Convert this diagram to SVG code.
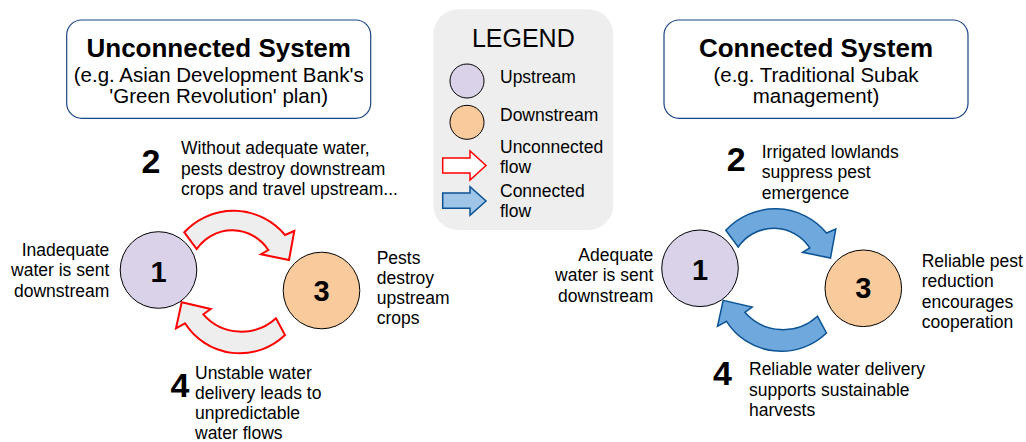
<svg xmlns="http://www.w3.org/2000/svg" width="1026" height="442" viewBox="0 0 1026 442">
<style>
text{font-family:"Liberation Sans",Arial,sans-serif;fill:#000}
.title{font-size:26px;font-weight:bold;text-anchor:middle}
.sub{font-size:20.5px;text-anchor:middle}
.lbl{font-size:17.5px}
.r{text-anchor:end}
.num{font-size:34px;font-weight:bold;text-anchor:middle}
.cnum{font-size:29px;font-weight:bold;text-anchor:middle}
.box{fill:#fff;stroke:#1c4587;stroke-width:1.2}
.up{fill:#d9d2e9;stroke:#000;stroke-width:1}
.down{fill:#f9cb9c;stroke:#000;stroke-width:1}
.red{fill:#eeeeee;stroke:#ff0000;stroke-width:2;stroke-linejoin:miter}
.blue{fill:#6fa8dc;stroke:#0b5394;stroke-width:1.5;stroke-linejoin:miter}
</style>
<defs>
<path id="arrTop" d="M184.3,232.3 A67,67 0 0 1 285,235 L294.3,231 L289,260 L261,254.3 L268.3,250 A43,43 0 0 0 196.7,249 Z"/>
<path id="arrBot" d="M285,335 A65,65 0 0 1 185,323.3 L176,328.3 L181.7,302.3 L210.7,309 L203.3,314.3 A51,51 0 0 0 276,318.3 Z"/>
</defs>

<g id="title-unconnected">
<rect class="box" x="66.7" y="20" width="304" height="98.3" rx="15"/>
<text class="title" x="218.7" y="57.3">Unconnected System</text>
<text class="sub" x="218.7" y="81.7">(e.g. Asian Development Bank's</text>
<text class="sub" x="218.7" y="102.7">'Green Revolution' plan)</text>
</g>

<g id="title-connected">
<rect class="box" x="664" y="20" width="304" height="98.3" rx="15"/>
<text class="title" x="816" y="57.3">Connected System</text>
<text class="sub" x="816" y="81.7">(e.g. Traditional Subak</text>
<text class="sub" x="816" y="102.7">management)</text>
</g>

<g id="legend">
<rect x="433.3" y="9.3" width="180" height="220.7" rx="25" fill="#eeeeee"/>
<text x="523.3" y="46.7" font-size="25" text-anchor="middle">LEGEND</text>
<circle class="up" cx="467" cy="81" r="17"/>
<text class="lbl" x="500" y="83.3">Upstream</text>
<circle class="down" cx="467" cy="122.3" r="17"/>
<text class="lbl" x="500" y="120.7">Downstream</text>
<path d="M442.7,158 L470,158 L470,151 L486,165.5 L470,180 L470,173 L442.7,173 Z" fill="#fff" stroke="#ff0000" stroke-width="1.5"/>
<text class="lbl" x="500" y="152.7">Unconnected</text>
<text class="lbl" x="500" y="173.3">flow</text>
<path d="M442.7,193 L470,193 L470,186.7 L486,201 L470,215.3 L470,208.3 L442.7,208.3 Z" fill="#9fc5e8" stroke="#0b5394" stroke-width="1.5"/>
<text class="lbl" x="500" y="196.7">Connected</text>
<text class="lbl" x="500" y="216.7">flow</text>
</g>

<g id="connectors">
<use href="#arrTop" class="red"/>
<use href="#arrBot" class="red"/>
<use href="#arrTop" class="blue" transform="translate(541.5,-2)"/>
<use href="#arrBot" class="blue" transform="translate(541.5,-2)"/>
</g>

<g id="u-node1">
<circle class="up" cx="158.5" cy="270" r="38.3"/>
<text class="cnum" x="158.5" y="281.5">1</text>
<text class="lbl r" x="109.3" y="256">Inadequate</text>
<text class="lbl r" x="109.3" y="276.3">water is sent</text>
<text class="lbl r" x="109.3" y="296.7">downstream</text>
</g>
<g id="u-node3">
<circle class="down" cx="321.5" cy="290.5" r="38.3"/>
<text class="cnum" x="321.5" y="300.5">3</text>
<text class="lbl" x="376.7" y="264">Pests</text>
<text class="lbl" x="376.7" y="284.2">destroy</text>
<text class="lbl" x="376.7" y="304.3">upstream</text>
<text class="lbl" x="376.7" y="324.3">crops</text>
</g>
<g id="u-step2">
<text class="num" x="151" y="173.3">2</text>
<text class="lbl" x="181" y="154.3">Without adequate water,</text>
<text class="lbl" x="181" y="174.8">pests destroy downstream</text>
<text class="lbl" x="181" y="195.2">crops and travel upstream...</text>
</g>
<g id="u-step4">
<text class="num" x="180" y="396.7">4</text>
<text class="lbl" x="195" y="379">Unstable water</text>
<text class="lbl" x="195" y="399">delivery leads to</text>
<text class="lbl" x="195" y="419">unpredictable</text>
<text class="lbl" x="195" y="439">water flows</text>
</g>

<g id="c-node1">
<circle class="up" cx="700" cy="268.3" r="38.3"/>
<text class="cnum" x="700" y="279.5">1</text>
<text class="lbl r" x="653.3" y="261">Adequate</text>
<text class="lbl r" x="653.3" y="281.3">water is sent</text>
<text class="lbl r" x="653.3" y="301.7">downstream</text>
</g>
<g id="c-node3">
<circle class="down" cx="863.3" cy="288.3" r="38.3"/>
<text class="cnum" x="863.3" y="298">3</text>
<text class="lbl" x="921.7" y="266.7">Reliable pest</text>
<text class="lbl" x="921.7" y="287.2">reduction</text>
<text class="lbl" x="921.7" y="307.5">encourages</text>
<text class="lbl" x="921.7" y="327.7">cooperation</text>
</g>
<g id="c-step2">
<text class="num" x="736.3" y="171">2</text>
<text class="lbl" x="761.7" y="157.7">Irrigated lowlands</text>
<text class="lbl" x="761.7" y="178.3">suppress pest</text>
<text class="lbl" x="761.7" y="198.7">emergence</text>
</g>
<g id="c-step4">
<text class="num" x="722.5" y="385">4</text>
<text class="lbl" x="749" y="375">Reliable water delivery</text>
<text class="lbl" x="749" y="395.5">supports sustainable</text>
<text class="lbl" x="749" y="415.5">harvests</text>
</g>
</svg>
